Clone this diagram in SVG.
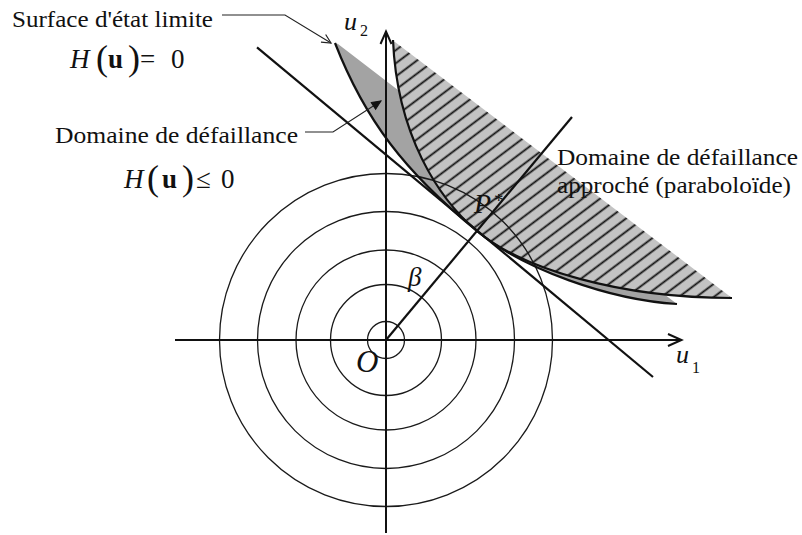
<svg xmlns="http://www.w3.org/2000/svg" width="802" height="535" viewBox="0 0 802 535">
<defs>
<style>
.lbl{font-size:23px;fill:#111}
.mi{font-style:italic;fill:#111}
.mr{fill:#111}
.mb{font-weight:bold;fill:#111}
.circ{fill:none;stroke:#1a1a1a;stroke-width:1.3}
.axis{fill:none;stroke:#111;stroke-width:2}
.bold{fill:none;stroke:#111;stroke-width:2.2}
.lead{fill:none;stroke:#222;stroke-width:1.1}
</style>
<pattern id="hatch" patternUnits="userSpaceOnUse" width="30" height="10.5" patternTransform="rotate(-37)">
<rect width="30" height="10.5" fill="#c3c3c3"/>
<line x1="0" y1="5.25" x2="30" y2="5.25" stroke="#111" stroke-width="1.8"/>
</pattern>
<marker id="open" markerWidth="12" markerHeight="12" refX="10" refY="6" orient="auto" markerUnits="userSpaceOnUse">
<polyline points="1,1.5 10,6 1,10.5" fill="none" stroke="#222" stroke-width="1.2"/>
</marker>
<marker id="solid" markerWidth="12" markerHeight="12" refX="10" refY="6" orient="auto" markerUnits="userSpaceOnUse">
<polygon points="1,2 10,6 1,10" fill="#111" stroke="#111" stroke-width="1"/>
</marker>
</defs>
<rect width="802" height="535" fill="#fff"/>

<g id="domaine-defaillance">
<path d="M335,43 C365,120 405,172 477,231 C523,269.4 610,300 677,304 L338,44 Z" fill="#a3a3a3"/>
</g>
<g id="domaine-approche">
<path d="M393,42 C397,135 438.6,199 477,231 C523,269.4 620,298 732,298 L395,42 Z" fill="url(#hatch)"/>
</g>

<g id="cercles">
<circle class="circ" cx="386" cy="340" r="18.5"/>
<circle class="circ" cx="386" cy="340" r="55.5"/>
<circle class="circ" cx="386" cy="340" r="90"/>
<circle class="circ" cx="386" cy="340" r="128.5"/>
<circle class="circ" cx="386" cy="340" r="166.5"/>
</g>

<g id="axes">
<line class="axis" x1="175" y1="340" x2="681" y2="340"/>
<polyline class="axis" points="668,334 681.5,340 668,346" stroke-width="1.6"/>
<line class="axis" x1="386" y1="533" x2="386" y2="32"/>
<polyline class="axis" points="380.5,44 386,31.5 391.5,44" stroke-width="1.6"/>
</g>

<g id="connectors">
<line id="tangente" class="bold" x1="257" y1="47.3" x2="653" y2="377"/>
<line id="beta-line" class="bold" x1="386" y1="340" x2="572" y2="117"/>
<path id="surface-limite" class="bold" d="M335,43 C365,120 405,172 477,231 C523,269.4 610,300 677,304"/>
<path id="paraboloide" class="bold" d="M393,40 C397,135 438.6,199 477,231 C523,269.4 620,298 732,298"/>
<path id="leader-surface" class="lead" d="M222,15 H285 L331,43" marker-end="url(#open)"/>
<path id="leader-domaine" class="lead" d="M305,132 H333 L381,101" marker-end="url(#solid)"/>
</g>

<g font-family="'Liberation Serif', 'Times New Roman', Times, serif">
<g id="label-surface">
<text class="lbl" x="12" y="27" textLength="201" lengthAdjust="spacingAndGlyphs">Surface d'état limite</text>
<text class="mi" x="70" y="68" font-size="27">H</text>
<text class="mr" x="96" y="70" font-size="36">(</text>
<text class="mb" x="108" y="68" font-size="27">u</text>
<text class="mr" x="128" y="70" font-size="36">)</text>
<text class="mr" x="140" y="68" font-size="27">=</text>
<text class="mr" x="171" y="68" font-size="27">0</text>
</g>

<g id="label-domaine">
<text class="lbl" x="55" y="143" textLength="243" lengthAdjust="spacingAndGlyphs">Domaine de défaillance</text>
<text class="mi" x="124" y="188" font-size="27">H</text>
<text class="mr" x="147" y="190" font-size="36">(</text>
<text class="mb" x="162" y="188" font-size="27">u</text>
<text class="mr" x="182" y="190" font-size="36">)</text>
<text class="mr" x="196" y="188" font-size="27">≤</text>
<text class="mr" x="221" y="188" font-size="27">0</text>
</g>

<g id="label-approche">
<text class="lbl" x="557" y="165" textLength="241" lengthAdjust="spacingAndGlyphs">Domaine de défaillance</text>
<text class="lbl" x="557" y="193" textLength="234" lengthAdjust="spacingAndGlyphs">approché (paraboloïde)</text>
</g>

<g id="labels-math">
<text class="mi" x="344" y="30" font-size="26">u</text>
<text class="mr" x="360" y="36" font-size="16">2</text>
<text class="mi" x="676" y="363" font-size="26">u</text>
<text class="mr" x="692" y="373" font-size="16">1</text>
<text class="mi" x="356" y="372" font-size="31">O</text>
<text class="mi" x="408" y="286" font-size="27">β</text>
<text class="mi" x="474" y="213" font-size="28">P</text>
<text class="mr" x="494" y="207" font-size="19">*</text>
</g>
</g>
</svg>
